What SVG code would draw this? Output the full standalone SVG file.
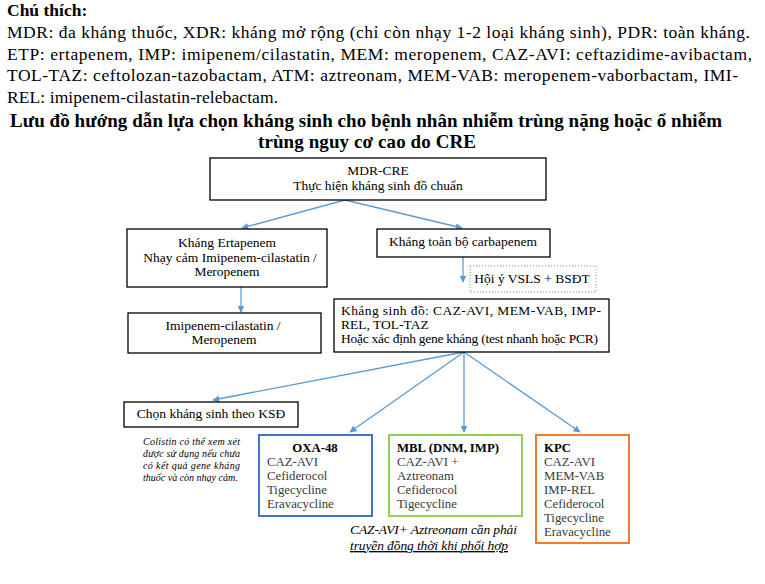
<svg xmlns="http://www.w3.org/2000/svg" width="765" height="584" viewBox="0 0 765 584">
<defs>
<marker id="ah" viewBox="0 0 10 10" refX="9" refY="5" markerWidth="7" markerHeight="7" markerUnits="userSpaceOnUse" orient="auto">
<path d="M0,0 L10,5 L0,10 z" fill="#5B9BD5"/>
</marker>
<style>
text{font-family:"Liberation Serif","Times New Roman","DejaVu Serif",serif;fill:#000}
.leg{font-size:17.5px}
.ttl{font-size:19px;font-weight:bold;text-anchor:middle}
.bx{fill:#fff;stroke:#000;stroke-width:1.3}
.t{font-size:13.5px}
.s{font-size:12.8px}
.c{text-anchor:middle}
.b{font-weight:bold}
.g{fill:#3a3a3a}
.it{font-style:italic}
.con{stroke:#5B9BD5;stroke-width:1.3;fill:none;marker-end:url(#ah)}
</style>
</defs>
<rect width="765" height="584" fill="#fff"/>
<g id="legend">
<text class="leg b" x="7" y="16">Chú thích:</text>
<text class="leg" x="7" y="38" textLength="743" lengthAdjust="spacing">MDR: đa kháng thuốc, XDR: kháng mở rộng (chỉ còn nhạy 1-2 loại kháng sinh), PDR: toàn kháng.</text>
<text class="leg" x="7" y="60" textLength="745" lengthAdjust="spacing">ETP: ertapenem, IMP: imipenem/cilastatin, MEM: meropenem, CAZ-AVI: ceftazidime-avibactam,</text>
<text class="leg" x="7" y="81" textLength="731" lengthAdjust="spacing">TOL-TAZ: ceftolozan-tazobactam, ATM: aztreonam, MEM-VAB: meropenem-vaborbactam, IMI-</text>
<text class="leg" x="7" y="103" textLength="271" lengthAdjust="spacing">REL: imipenem-cilastatin-relebactam.</text>
</g>
<g id="title">
<text class="ttl" x="366" y="127" textLength="712" lengthAdjust="spacing">Lưu đồ hướng dẫn lựa chọn kháng sinh cho bệnh nhân nhiễm trùng nặng hoặc ổ nhiễm</text>
<text class="ttl" x="367" y="148" textLength="218" lengthAdjust="spacing">trùng nguy cơ cao do CRE</text>
</g>
<g id="connectors">
<line class="con" x1="345" y1="200" x2="242" y2="228"/>
<line class="con" x1="345" y1="200" x2="462" y2="228"/>
<line class="con" x1="241" y1="287" x2="241" y2="312"/>
<line class="con" x1="463" y1="257" x2="463" y2="282"/>
<line class="con" x1="464" y1="352" x2="213" y2="400"/>
<line class="con" x1="464" y1="352" x2="350" y2="432"/>
<line class="con" x1="464" y1="352" x2="464" y2="432"/>
<line class="con" x1="464" y1="352" x2="580" y2="432"/>
</g>
<g id="mdr-cre">
<rect class="bx" x="210" y="158" width="336" height="42"/>
<text class="t c" x="378" y="175">MDR-CRE</text>
<text class="t c" x="378" y="190">Thực hiện kháng sinh đồ chuẩn</text>
</g>
<g id="khang-ertapenem">
<rect class="bx" x="127" y="229" width="200" height="58"/>
<text class="t c" x="227" y="247">Kháng Ertapenem</text>
<text class="t c" x="230" y="262">Nhạy cảm Imipenem-cilastatin /</text>
<text class="t c" x="227" y="276">Meropenem</text>
</g>
<g id="imipenem">
<rect class="bx" x="128" y="313" width="193" height="40"/>
<text class="t c" x="223" y="330">Imipenem-cilastatin /</text>
<text class="t c" x="224" y="344">Meropenem</text>
</g>
<g id="khang-toan-bo">
<rect class="bx" x="377" y="229" width="173" height="28"/>
<text class="t c" x="463" y="246">Kháng toàn bộ carbapenem</text>
</g>
<g id="hoi-y">
<rect x="470" y="266" width="126" height="26" fill="#fff" stroke="#70AD47" stroke-width="1" stroke-dasharray="1.2 1.8"/>
<text class="t c" x="532" y="283">Hội ý VSLS + BSĐT</text>
</g>
<g id="khang-sinh-do">
<rect class="bx" x="334" y="299" width="275" height="53"/>
<text class="t" x="341" y="315" textLength="260" lengthAdjust="spacing">Kháng sinh đồ: CAZ-AVI, MEM-VAB, IMP-</text>
<text class="t" x="341" y="329">REL, TOL-TAZ</text>
<text class="t" x="341" y="343" textLength="257" lengthAdjust="spacing">Hoặc xác định gene kháng (test nhanh hoặc PCR)</text>
</g>
<g id="chon-ksd">
<rect class="bx" x="124" y="402" width="174" height="25"/>
<text class="t c" x="211" y="418">Chọn kháng sinh theo KSĐ</text>
</g>
<g id="colistin-note">
<text class="it" font-size="10" x="143" y="445" textLength="97" lengthAdjust="spacing">Colistin có thể xem xét</text>
<text class="it" font-size="10" x="143" y="457" textLength="97" lengthAdjust="spacing">được sử dụng nếu chưa</text>
<text class="it" font-size="10" x="143" y="469" textLength="97" lengthAdjust="spacing">có kết quả gene kháng</text>
<text class="it" font-size="10" x="143" y="481">thuốc và còn nhạy cảm.</text>
</g>
<g id="oxa48">
<rect x="259" y="435" width="113" height="81" fill="#fff" stroke="#4472C4" stroke-width="2"/>
<text class="s c b" x="315" y="452">OXA-48</text>
<text class="s g" x="267" y="466">CAZ-AVI</text>
<text class="s g" x="267" y="480">Cefiderocol</text>
<text class="s g" x="267" y="494">Tigecycline</text>
<text class="s g" x="267" y="508">Eravacycline</text>
</g>
<g id="mbl">
<rect x="389" y="435" width="133" height="81" fill="#fff" stroke="#92D050" stroke-width="2"/>
<text class="s b" x="397" y="452">MBL (DNM, IMP)</text>
<text class="s g" x="397" y="466">CAZ-AVI +</text>
<text class="s g" x="397" y="480">Aztreonam</text>
<text class="s g" x="397" y="494">Cefiderocol</text>
<text class="s g" x="397" y="508">Tigecycline</text>
</g>
<g id="kpc">
<rect x="536" y="435" width="93" height="108" fill="#fff" stroke="#ED7D31" stroke-width="2"/>
<text class="s b" x="544" y="452">KPC</text>
<text class="s g" x="544" y="466">CAZ-AVI</text>
<text class="s g" x="544" y="480">MEM-VAB</text>
<text class="s g" x="544" y="494">IMP-REL</text>
<text class="s g" x="544" y="508">Cefiderocol</text>
<text class="s g" x="544" y="522">Tigecycline</text>
<text class="s g" x="544" y="536">Eravacycline</text>
</g>
<g id="caz-note">
<text class="t it" x="350" y="534" textLength="167" lengthAdjust="spacing">CAZ-AVI+ Aztreonam cần phải</text>
<text class="t it" x="350" y="550" textLength="158" lengthAdjust="spacing" text-decoration="underline">truyền đồng thời khi phối hợp</text>
</g>
</svg>
